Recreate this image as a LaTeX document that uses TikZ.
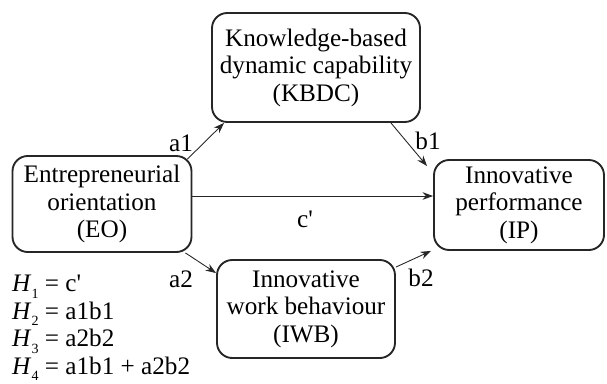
\documentclass[tikz,border=0pt]{standalone}
\usepackage{fontspec}
\setmainfont{Liberation Serif}
\usetikzlibrary{arrows.meta,positioning,calc}

\newcommand{\hsub}[1]{\textit{H}\raisebox{-0.55ex}{\fontsize{12}{12}\selectfont #1}}

\begin{document}
\begin{tikzpicture}[
  x=0.03cm, y=-0.03cm, >={Stealth[length=9pt,width=6.5pt]},
  block/.style={draw=black!85, rounded corners=13pt, line width=1.6pt, align=center, inner sep=0pt, font=\fontsize{21.5}{23.5}\selectfont},
  arrow/.style={->, line width=0.75pt, black!85},
  lbl/.style={font=\fontsize{21.5}{23.5}\selectfont, inner sep=0pt}
]
\useasboundingbox (0,0) rectangle (607,383);

\node[block, minimum width=6.24cm, minimum height=3.27cm] (kbdc) at (316,67.5) {Knowledge-based\\dynamic capability\\(KBDC)};
\node[block, minimum width=5.37cm, minimum height=2.88cm] (eo) at (102,204) {Entrepreneurial\\orientation\\(EO)};
\node[block, minimum width=5.1cm, minimum height=2.7cm] (ip) at (519,205) {Innovative\\performance\\(IP)};
\node[block, minimum width=5.34cm, minimum height=2.94cm] (iwb) at (306,309) {Innovative\\work behaviour\\(IWB)};

\draw[arrow] ($(eo.north east)+(-5,4)$) -- ($(kbdc.south west)+(13,0)$);
\draw[arrow] ($(kbdc.south east)+(-30,0)$) -- ($(ip.north west)+(-6,7)$);
\draw[arrow] ($(eo.east)+(0,-8)$) -- ($(ip.west)+(0,-9)$);
\draw[arrow] ($(eo.south east)+(-7,0)$) -- ($(iwb.north west)+(0,14)$);
\draw[arrow] ($(iwb.north east)+(0,8)$) -- ($(ip.south west)+(-2,0)$);

\node[lbl] (la1) at (181,143) {a1};
\node[lbl] (lb1) at (428,141) {b1};
\node[lbl] (lc) at (305,219) {c\textquotesingle};
\node[lbl] (la2) at (181,279) {a2};
\node[lbl] (lb2) at (421,278) {b2};

\node[lbl, align=left, anchor=north west] (hyp) at (12,275) {%
  \hsub{1} = c\textquotesingle\\
  \hsub{2} = a1b1\\
  \hsub{3} = a2b2\\
  \hsub{4} = a1b1 + a2b2};

\end{tikzpicture}
\end{document}
